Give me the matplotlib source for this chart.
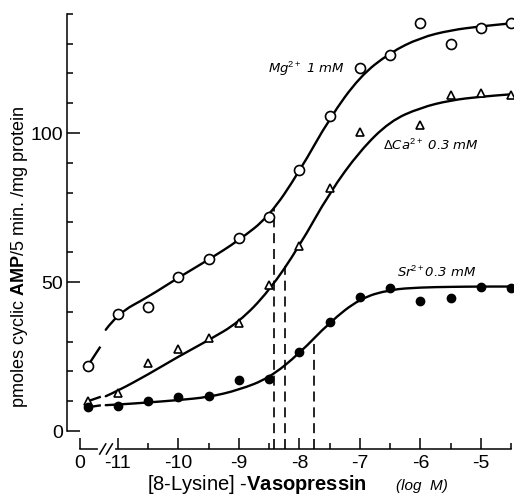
import numpy as np
import matplotlib
matplotlib.use("Agg")
import matplotlib.pyplot as plt
from matplotlib.path import Path
from matplotlib.patches import PathPatch
from matplotlib.ticker import FixedLocator, MultipleLocator

plt.rcParams["mathtext.fontset"] = "custom"
plt.rcParams["mathtext.rm"] = "Liberation Sans"
plt.rcParams["mathtext.bf"] = "Liberation Sans:bold"
plt.rcParams["mathtext.it"] = "Liberation Sans:italic"

NARROW = ["Liberation Sans Narrow", "Liberation Sans"]

# ---- data ---------------------------------------------------------------
# x is log M; the "0" (no hormone) column sits left of the axis break
zero_pos = -11.63
control_x = -11.5
log_dose = [-11, -10.5, -10, -9.5, -9, -8.5, -8, -7.5, -7, -6.5, -6, -5.5, -5, -4.5]

mg_pts = [39.3, 41.6, 51.7, 57.7, 64.8, 71.7, 87.6, 105.7, 121.8, 126.2, 136.9, 129.9, 135.2, 136.9]
ca_pts = [12.8, 22.8, 27.5, 31.2, 36.2, 49.0, 62.0, 81.5, 100.3, np.nan, 102.7, 112.8, 113.4, 112.8]
sr_pts = [8.4, 10.0, 11.4, 11.7, 17.1, 17.4, 26.5, 36.6, 45.0, 48.0, 43.6, 44.6, 48.3, 48.0]

mg_control = 21.8
ca_control = 10.0
sr_control = 8.0

# fitted curves (values of the drawn line)
fit_x = [-11.2, -11, -10.5, -10, -9.5, -9, -8.5, -8, -7.5, -7, -6.5, -6, -5.5, -5, -4.5]
mg_fit = [34.0, 39.5, 45.0, 51.5, 57.5, 64.0, 72.0, 87.0, 105.0, 119.0, 127.0, 132.0, 134.5, 135.8, 136.8]
ca_fit = [11.7, 13.5, 19.0, 25.0, 30.5, 36.5, 47.0, 62.0, 80.0, 94.0, 104.0, 108.5, 111.0, 112.2, 113.0]
sr_fit = [8.7, 8.9, 9.6, 10.4, 11.4, 13.8, 17.8, 26.0, 36.5, 44.5, 47.5, 48.2, 48.4, 48.5, 48.5]

# short stubs from the control point up to the axis break
stub_x = [control_x, -11.3]
mg_stub = [mg_control, 28.0]
ca_stub = [ca_control, 11.4]
sr_stub = [sr_control, 8.6]

# half-maximal concentrations (dashed drop lines)
ec50_x = [-8.42, -8.23, -7.75]
ec50_y = [75.0, 55.5, 31.3]

x_major = [zero_pos, -11, -10, -9, -8, -7, -6, -5]
x_labels = ["0", "-11", "-10", "-9", "-8", "-7", "-6", "-5"]
x_minor = [-10.5, -9.5, -8.5, -7.5, -6.5, -5.5, -4.5]
y_major = [0, 50, 100]


def smooth(ax, xs, ys, lw=1.7):
    """Quadratic B-spline through the read curve values."""
    pts = list(zip(xs, ys))
    verts = [pts[0]]
    codes = [Path.MOVETO]
    for i in range(1, len(pts) - 1):
        mid = ((pts[i][0] + pts[i + 1][0]) / 2, (pts[i][1] + pts[i + 1][1]) / 2)
        verts += [pts[i], mid]
        codes += [Path.CURVE3, Path.CURVE3]
    verts.append(pts[-1])
    codes.append(Path.LINETO)
    ax.add_patch(PathPatch(Path(verts, codes), fill=False, lw=lw,
                           color="black", zorder=2, capstyle="round"))


fig = plt.figure(figsize=(5.14, 4.97), dpi=100)
ax = fig.add_axes([0.1304, 0.0966, 0.8692, 0.8816])
ax.set_xlim(-11.84, -4.455)
ax.set_ylim(-6, 141)

for fit, stub in [(mg_fit, mg_stub), (ca_fit, ca_stub), (sr_fit, sr_stub)]:
    smooth(ax, fit_x, fit)
    ax.plot(stub_x, stub, color="black", lw=1.7, zorder=2)

ax.plot(log_dose, mg_pts, "o", ms=7.2, mfc="white", mec="black", mew=1.2,
        ls="none", zorder=4, clip_on=False)
ax.plot([control_x], [mg_control], "o", ms=7.2, mfc="white", mec="black",
        mew=1.2, zorder=4)
ax.plot(log_dose, ca_pts, "^", ms=6, mfc="white", mec="black", mew=1.2,
        ls="none", zorder=4, clip_on=False)
ax.plot([control_x], [ca_control], "^", ms=6, mfc="white", mec="black",
        mew=1.2, zorder=4)
ax.plot(log_dose, sr_pts, "o", ms=6, color="black", ls="none", zorder=4,
        clip_on=False)
ax.plot([control_x], [sr_control], "o", ms=6, color="black", zorder=4)

for x, y in zip(ec50_x, ec50_y):
    ax.plot([x, x], [-6, y], color="black", lw=1.2, ls=(0, (6, 3.5)),
            zorder=1, clip_on=False)

# axes styling
for s in ["top", "right"]:
    ax.spines[s].set_visible(False)
ax.spines["left"].set_bounds(0, 140)
ax.spines["bottom"].set_bounds(zero_pos, -4.5)
for s in ["left", "bottom"]:
    ax.spines[s].set_linewidth(1.1)

ax.xaxis.set_major_locator(FixedLocator(x_major))
ax.xaxis.set_minor_locator(FixedLocator(x_minor))
ax.set_xticklabels(x_labels, family=NARROW, fontsize=14)
ax.set_yticks(y_major)
ax.yaxis.set_minor_locator(MultipleLocator(10))
ax.set_yticklabels([str(v) for v in y_major], family=NARROW, fontsize=14)
ax.tick_params(axis="x", which="major", direction="in", length=8, width=1.1, pad=4)
ax.tick_params(axis="x", which="minor", direction="in", length=4, width=1.1)
ax.tick_params(axis="y", which="major", direction="in", length=9.5, width=1.1, pad=3)
ax.tick_params(axis="y", which="minor", direction="in", length=4.5, width=1.1)

# axis break on the x axis
ax.plot([-11.30, -11.08], [-6, -6], color="white", lw=3, zorder=5, clip_on=False)
for bx in [-11.25, -11.14]:
    ax.plot([bx - 0.05, bx + 0.05], [-7.7, -4.3], color="black", lw=1.1,
            zorder=6, clip_on=False)

# curve labels
lab = dict(fontsize=9.5, style="italic", family="DejaVu Sans",
           ha="left", va="center")
ax.text(-8.52, 121.5, r"Mg$^{2+}$ 1 mM", **lab)
ax.text(-6.62, 96, r"$\Delta$Ca$^{2+}$ 0.3 mM", **lab)
ax.text(-6.39, 53.4, r"Sr$^{2+}$0.3 mM", **lab)

fig.text(20 / 514, 1 - 257 / 497, r"pmoles cyclic $\mathbf{AMP}$/5 min. /mg protein",
         rotation=90, ha="center", va="center", fontsize=13, family="Liberation Sans")
fig.text(147 / 514, 1 - 484 / 497, r"[8-Lysine] -$\mathbf{Vasopressin}$",
         ha="left", va="center", fontsize=14.5, family="Liberation Sans")
fig.text(396 / 514, 1 - 486 / 497, "(log  M)", ha="left", va="center",
         fontsize=11, style="italic", family="Liberation Sans")

fig.savefig("out.png", dpi=100)
